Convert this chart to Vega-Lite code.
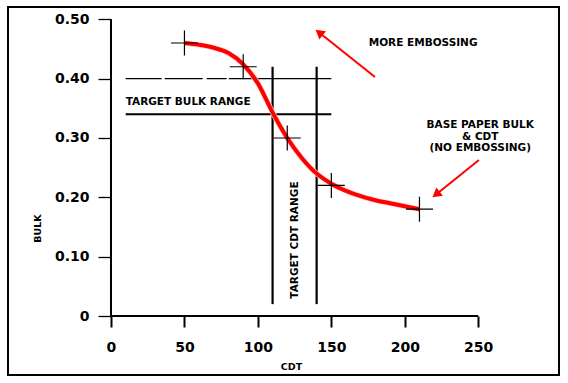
{
  "$schema": "https://vega.github.io/schema/vega-lite/v6.json",
  "width": 551,
  "height": 368,
  "autosize": {"type": "none"},
  "padding": {"left": 8, "top": 7, "right": 9, "bottom": 8},
  "background": "white",
  "config": {
    "view": {"stroke": "black", "strokeWidth": 2},
    "font": "DejaVu Sans"
  },
  "datasets": {
    "curve": [
      {"x": 50, "y": 0.46}, {"x": 60, "y": 0.457}, {"x": 70, "y": 0.452}, {"x": 80, "y": 0.443},
      {"x": 90, "y": 0.424}, {"x": 100, "y": 0.392}, {"x": 110, "y": 0.343}, {"x": 120, "y": 0.3},
      {"x": 130, "y": 0.266}, {"x": 140, "y": 0.24}, {"x": 150, "y": 0.223}, {"x": 160, "y": 0.211},
      {"x": 170, "y": 0.202}, {"x": 180, "y": 0.195}, {"x": 190, "y": 0.19}, {"x": 200, "y": 0.185},
      {"x": 210, "y": 0.18}
    ],
    "points": [
      {"x": 50, "y": 0.46}, {"x": 90, "y": 0.42}, {"x": 120, "y": 0.3}, {"x": 150, "y": 0.22}, {"x": 210, "y": 0.18}
    ],
    "targets": [
      {"line": "bulk-max", "x": 10, "x2": 150, "y": 0.4, "y2": 0.4},
      {"line": "bulk-min", "x": 10, "x2": 150, "y": 0.34, "y2": 0.34},
      {"line": "cdt-min", "x": 110, "x2": 110, "y": 0.02, "y2": 0.42},
      {"line": "cdt-max", "x": 140, "x2": 140, "y": 0.02, "y2": 0.42}
    ],
    "axislines": [
      {"x": 0, "x2": 0, "y": 0, "y2": 0.5},
      {"x": 0, "x2": 250, "y": 0, "y2": 0}
    ],
    "arrows": [
      {"id": "more", "x": 179.7, "y": 0.4028, "x2": 141.7, "y2": 0.4778},
      {"id": "base", "x": 250.5, "y": 0.2629, "x2": 221.3, "y2": 0.2048}
    ],
    "labels": [
      {"grp": "left", "text": "TARGET BULK RANGE", "x": 10, "y": 0.3606},
      {"grp": "center", "text": "MORE EMBOSSING", "x": 212.5, "y": 0.46},
      {"grp": "center", "text": "BASE PAPER BULK", "x": 251.4, "y": 0.3227},
      {"grp": "center", "text": "& CDT", "x": 251.4, "y": 0.3017},
      {"grp": "center", "text": "(NO EMBOSSING)", "x": 251.4, "y": 0.2826},
      {"grp": "vertical", "text": "TARGET CDT RANGE", "x": 125.3, "y": 0.128}
    ]
  },
  "encoding": {
    "x": {
      "field": "x", "type": "quantitative",
      "scale": {"domain": [-70.12, 305.0], "nice": false, "zero": false},
      "axis": {
        "orient": "bottom", "offset": -59, "values": [0, 50, 100, 150, 200, 250],
        "domain": false, "grid": false, "labelFlush": false, "labelOverlap": false,
        "tickSize": 11, "tickWidth": 2, "tickColor": "black",
        "labelFont": "DejaVu Sans", "labelFontWeight": "bold", "labelFontSize": 14, "labelColor": "black",
        "labelPadding": 13,
        "title": "CDT", "titleFont": "DejaVu Sans", "titleFontWeight": "bold", "titleFontSize": 9.5,
        "titleColor": "black", "titleX": 283, "titleY": 50, "titleAlign": "center", "titleBaseline": "middle"
      }
    },
    "y": {
      "field": "y", "type": "quantitative",
      "scale": {"domain": [-0.0994, 0.5207], "nice": false, "zero": false},
      "axis": {
        "orient": "left", "offset": -103, "values": [0, 0.1, 0.2, 0.3, 0.4, 0.5],
        "labelExpr": "datum.value == 0 ? '0' : format(datum.value, '.2f')",
        "domain": false, "grid": false, "labelFlush": false, "labelOverlap": false,
        "tickSize": 13, "tickWidth": 1.3, "tickColor": "black",
        "labelFont": "DejaVu Sans", "labelFontWeight": "bold", "labelFontSize": 14, "labelColor": "black",
        "labelPadding": 9,
        "title": "BULK", "titleFont": "DejaVu Sans", "titleFontWeight": "bold", "titleFontSize": 9.5,
        "titleColor": "black", "titleX": -73.5, "titleY": 221, "titleAngle": 270,
        "titleAlign": "center", "titleBaseline": "middle"
      }
    }
  },
  "layer": [
    {
      "data": {"name": "axislines"},
      "mark": {"type": "rule", "color": "black", "strokeWidth": 2},
      "encoding": {"x2": {"field": "x2"}, "y2": {"field": "y2"}}
    },
    {
      "data": {"name": "targets"},
      "transform": [{"filter": "datum.line == 'bulk-max'"}],
      "mark": {"type": "rule", "color": "black", "strokeWidth": 1.2, "strokeDash": [36, 3, 38, 4, 20, 2, 200, 0]},
      "encoding": {"x2": {"field": "x2"}, "y2": {"field": "y2"}}
    },
    {
      "data": {"name": "targets"},
      "transform": [{"filter": "datum.line != 'bulk-max'"}],
      "mark": {"type": "rule", "color": "black", "strokeWidth": 2.2},
      "encoding": {"x2": {"field": "x2"}, "y2": {"field": "y2"}}
    },
    {
      "data": {"name": "curve"},
      "mark": {"type": "line", "interpolate": "monotone", "color": "#ffcccc", "strokeWidth": 5.4},
      "encoding": {}
    },
    {
      "data": {"name": "curve"},
      "mark": {"type": "line", "interpolate": "monotone", "color": "#ff0000", "strokeWidth": 4},
      "encoding": {}
    },
    {
      "data": {"name": "points"},
      "mark": {"type": "point", "shape": "M-1.08,0H1.08M0,-1V1", "size": 625, "filled": false, "stroke": "black", "strokeWidth": 1.2, "opacity": 1},
      "encoding": {}
    },
    {
      "data": {"name": "arrows"},
      "mark": {"type": "rule", "color": "#ff0000", "strokeWidth": 2},
      "encoding": {"x2": {"field": "x2"}, "y2": {"field": "y2"}}
    },
    {
      "data": {"name": "arrows"},
      "transform": [{"filter": "datum.id == 'more'"}],
      "mark": {"type": "point", "shape": "triangle-up", "size": 110, "filled": true, "color": "#ff0000", "opacity": 1, "angle": 308.5},
      "encoding": {"x": {"field": "x2", "type": "quantitative"}, "y": {"field": "y2", "type": "quantitative"}}
    },
    {
      "data": {"name": "arrows"},
      "transform": [{"filter": "datum.id == 'base'"}],
      "mark": {"type": "point", "shape": "triangle-up", "size": 110, "filled": true, "color": "#ff0000", "opacity": 1, "angle": 231.2},
      "encoding": {"x": {"field": "x2", "type": "quantitative"}, "y": {"field": "y2", "type": "quantitative"}}
    },
    {
      "data": {"name": "labels"},
      "transform": [{"filter": "datum.grp == 'left'"}],
      "mark": {"type": "text", "font": "DejaVu Sans", "fontWeight": "bold", "fontSize": 10.5, "color": "black", "align": "left", "baseline": "middle"},
      "encoding": {"text": {"field": "text"}}
    },
    {
      "data": {"name": "labels"},
      "transform": [{"filter": "datum.grp == 'center'"}],
      "mark": {"type": "text", "font": "DejaVu Sans", "fontWeight": "bold", "fontSize": 10.5, "color": "black", "align": "center", "baseline": "middle"},
      "encoding": {"text": {"field": "text"}}
    },
    {
      "data": {"name": "labels"},
      "transform": [{"filter": "datum.grp == 'vertical'"}],
      "mark": {"type": "text", "font": "DejaVu Sans", "fontWeight": "bold", "fontSize": 10.5, "color": "black", "align": "center", "baseline": "middle", "angle": 270},
      "encoding": {"text": {"field": "text"}}
    }
  ]
}
